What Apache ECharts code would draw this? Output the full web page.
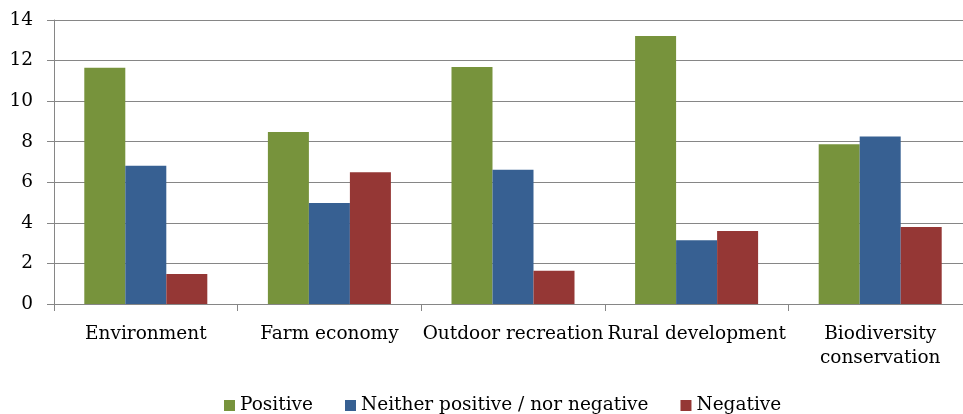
<!DOCTYPE html>
<html><head><meta charset="utf-8">
<script src="https://cdn.jsdelivr.net/npm/echarts@6/dist/echarts.min.js"></script>
<style>html,body{margin:0;padding:0;background:#fff;overflow:hidden}#c{width:972px;height:414px}</style>
</head><body><div id="c"></div>
<script>
const categories = ['Environment', 'Farm economy', 'Outdoor recreation', 'Rural development', 'Biodiversity\nconservation'];
const positive = [11.65, 8.48, 11.68, 13.21, 7.87];
const neutral = [6.82, 4.98, 6.62, 3.14, 8.26];
const negative = [1.48, 6.49, 1.64, 3.6, 3.8];
const yTicks = { min: 0, max: 14, interval: 2 };
const seriesNames = ['Positive', 'Neither positive / nor negative', 'Negative'];

const font = 'DejaVu Serif';
const chart = echarts.init(document.getElementById('c'));
chart.setOption({
  animation: false,
  textStyle: { fontFamily: font },
  grid: { left: 54, top: 20, right: 0, height: 284, containLabel: false },
  legend: {
    top: 391, left: 219, itemWidth: 11, itemHeight: 11, itemGap: 32,
    icon: 'rect',
    textStyle: { fontFamily: font, fontSize: 18.5, color: '#000' },
    data: seriesNames
  },
  xAxis: {
    type: 'category', data: categories,
    axisLine: { lineStyle: { color: '#868686', width: 1 } },
    axisTick: { show: true, length: 7, lineStyle: { color: '#868686' } },
    axisLabel: { color: '#000', fontSize: 18.5, fontFamily: font, margin: 18, lineHeight: 24, interval: 0 }
  },
  yAxis: {
    type: 'value', min: yTicks.min, max: yTicks.max, interval: yTicks.interval,
    axisLine: { show: true, lineStyle: { color: '#868686', width: 1 } },
    axisTick: { show: true, length: 7, lineStyle: { color: '#868686' } },
    splitLine: { lineStyle: { color: '#868686', width: 1 } },
    axisLabel: { color: '#000', fontSize: 18.5, fontFamily: font, margin: 21 }
  },
  series: [
    { name: seriesNames[0], type: 'bar', data: positive, barGap: '0%', barCategoryGap: '33%', itemStyle: { color: '#77933C' } },
    { name: seriesNames[1], type: 'bar', data: neutral, itemStyle: { color: '#376092' } },
    { name: seriesNames[2], type: 'bar', data: negative, itemStyle: { color: '#953735' } }
  ]
});
</script></body></html>
